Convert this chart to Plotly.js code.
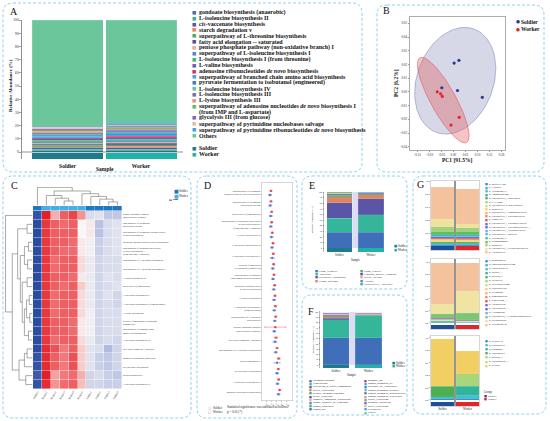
<!DOCTYPE html>
<html><head><meta charset="utf-8">
<script src="https://cdn.plot.ly/plotly-3.0.1.min.js"></script>
<style>html,body{margin:0;padding:0;background:#fff}#p{width:550px;height:421px}</style>
</head><body><div id="p"></div>
<script>
// ================= DATA =================
const groups = ['Soldier', 'Worker'];

// ---- Panel A: pathway relative abundance (%) ----
const pathwaysA = [
 'gondoate biosynthesis (anaerobic)', 'L-isoleucine biosynthesis II', '<i>cis</i>-vaccenate biosynthesis',
 'starch degradation v', 'superpathway of L-threonine biosynthesis', 'fatty acid elongation -- saturated',
 'pentose phosphate pathway (non-oxidative branch) I', 'superpathway of L-isoleucine biosynthesis I',
 'L-isoleucine biosynthesis I (from threonine)', 'L-valine biosynthesis',
 'adenosine ribonucleotides <i>de novo</i> biosynthesis', 'superpathway of branched chain amino acid biosynthesis',
 'pyruvate fermentation to isobutanol (engineered)', 'L-isoleucine biosynthesis IV', 'L-isoleucine biosynthesis III',
 'L-lysine biosynthesis III', 'superpathway of adenosine nucleotides <i>de novo</i> biosynthesis I<br>(from IMP and L-aspartate)',
 'glycolysis III (from glucose)', 'superpathway of pyrimidine nucleobases salvage',
 'superpathway of pyrimidine ribonucleotides <i>de novo</i> biosynthesis', 'Others'];
const soldierA = [1.02,0.98,1.05,0.93,0.99,1.01,0.96,0.97,1.00,0.98,0.95,0.99,0.97,1.00,0.98,0.96,1.01,0.97,0.94,0.96,80.4];
const workerA  = [1.12,1.08,1.15,1.05,1.10,1.12,1.02,1.09,1.11,1.10,1.08,1.10,1.09,1.12,1.10,1.08,1.12,1.09,1.06,1.08,78.0];

// ---- Panel B: PCA ----
const pc1Soldier = [0.003, 0.023, -0.048, 0.017, 0.120];
const pc2Soldier = [0.021, 0.023, 0.003, 0.001, -0.004];
const pc1Worker  = [-0.067, -0.053, -0.046, 0.024, -0.010];
const pc2Worker  = [0.000, -0.0014, -0.0033, -0.0186, -0.0242];
// confidence ellipses: centre + two conjugate semi-diameters (data units)
const ellSoldier = {cx:0.0076, cy:0.0081, ux:0.078, uy:0.0377, vx:0.149, vy:-0.0096};
const ellWorker  = {cx:-0.042, cy:-0.006, ux:0.0967, uy:-0.0309, vx:0.046, vy:0.0044};

// ---- Panel C: heatmap (z-scores) ----
const samplesC = ['Soldier5','Worker1','Worker2','Worker3','Worker4','Worker5','Soldier1','Soldier2','Soldier3','Soldier4'];
const groupC = [0,1,1,1,1,1,0,0,0,0];
const rowsC = ['pentose phosphate pathway<br>(non-oxidative branch) I','superpathway of pyrimidine<br>nucleobases salvage',
 'superpathway of pyrimidine ribonucleotides<br>de novo biosynthesis','adenosine ribonucleotides de novo biosynthesis',
 'superpathway of adenosine nucleotides<br>de novo biosynthesis I<br>(from IMP and L-aspartate)','superpathway of L-threonine biosynthesis',
 'superpathway of L-isoleucine biosynthesis I','L-lysine biosynthesis III','glycolysis III (from glucose)',
 'L-isoleucine biosynthesis II','L-isoleucine biosynthesis I (from threonine)','L-valine biosynthesis',
 'pyruvate fermentation to isobutanol<br>(engineered)','superpathway of branched chain<br>amino acid biosynthesis',
 'L-isoleucine biosynthesis III','fatty acid elongation -- saturated','gondoate biosynthesis (anaerobic)',
 'cis-vaccenate biosynthesis','starch degradation V','L-isoleucine biosynthesis IV'];
const zC = [
 [-2.4,1.6,0.5,1.1,1.3,0.7,-0.4,-0.3,-0.7,-0.7],
 [-2.5,1.4,1.1,1.0,1.1,0.0,0.1,-0.8,-0.4,-0.3],
 [-2.5,1.4,1.1,1.1,1.1,0.0,0.1,-0.8,-0.4,-0.3],
 [-2.5,1.4,1.1,1.1,1.0,0.1,-0.1,-0.6,-0.4,-0.3],
 [-2.5,1.4,1.1,1.0,1.0,0.1,-0.1,-0.6,-0.4,-0.3],
 [-2.5,1.4,1.0,1.1,1.1,0.2,-0.2,-0.5,-0.4,-0.4],
 [-2.5,1.4,1.0,1.1,1.1,0.2,-0.2,-0.5,-0.4,-0.4],
 [-2.5,1.4,1.1,1.1,1.0,0.1,-0.2,-0.5,-0.3,-0.4],
 [-2.5,1.4,1.1,1.0,1.1,0.3,-0.2,-0.5,-0.4,-0.3],
 [-2.5,1.4,1.0,1.1,1.1,0.2,-0.2,-0.5,-0.3,-0.5],
 [-2.5,1.4,1.0,1.1,1.1,0.2,-0.2,-0.5,-0.4,-0.5],
 [-2.5,1.4,1.0,1.1,1.1,0.2,-0.1,-0.5,-0.4,-0.4],
 [-2.5,1.4,1.1,1.1,1.0,0.1,-0.1,-0.5,-0.4,-0.4],
 [-2.5,1.4,1.1,1.1,1.0,0.1,-0.1,-0.5,-0.4,-0.4],
 [-2.5,1.4,1.0,1.1,1.1,0.2,-0.2,-0.5,-0.4,-0.5],
 [-2.5,1.5,1.2,0.9,1.1,0.3,-0.3,-0.4,-0.9,-0.5],
 [-2.4,1.5,1.1,0.9,1.2,0.3,-0.3,-0.6,-0.7,-0.5],
 [-2.4,1.5,1.1,0.9,1.2,0.3,-0.3,-0.6,-0.7,-0.5],
 [-2.3,1.6,0.6,0.9,1.0,0.5,-0.5,-0.4,-0.6,-0.7],
 [-2.4,1.5,0.7,1.0,1.1,0.4,-0.5,-0.5,-0.6,-0.6]];
// dendrogram linkages [childA, childB, height]
const colLinks = [[3,4,0.25],[2,10,0.4],[1,11,0.55],[8,9,0.2],[7,13,0.35],[6,14,0.5],[5,15,0.65],[12,16,0.8],[0,17,1.0]];
const rowLinks = [[1,2,0.2],[3,4,0.15],[5,6,0.18],[21,22,0.3],[7,8,0.2],[9,10,0.12],[11,12,0.1],[25,26,0.22],[13,14,0.15],
 [27,28,0.3],[24,29,0.38],[23,30,0.45],[20,31,0.55],[15,16,0.2],[17,33,0.3],[18,19,0.25],[34,35,0.5],[32,36,0.75],[0,37,1.0]];

// ---- Panel D: mean abundance with error ----
const rowsD = ['superpathway of pyrimidine<br>ribonucleotides de novo biosynthesis','superpathway of pyrimidine<br>nucleobases salvage',
 'glycolysis III (from glucose)','superpathway of adenosine nucleotides<br>de novo biosynthesis I<br>(from IMP and L-aspartate)',
 'L-lysine biosynthesis III','L-isoleucine biosynthesis III','L-isoleucine biosynthesis IV',
 'pyruvate fermentation<br>to isobutanol (engineered)','superpathway of branched<br>chain amino acid biosynthesis',
 'adenosine ribonucleotides<br>de novo biosynthesis','L-valine biosynthesis','L-isoleucine biosynthesis I<br>(from threonine)',
 'superpathway of L-isoleucine<br>biosynthesis I','pentose phosphate pathway<br>(non-oxidative branch) I',
 'fatty acid elongation -- saturated','superpathway of L-threonine biosynthesis','starch degradation V',
 'cis-vaccenate biosynthesis','L-isoleucine biosynthesis II','gondoate biosynthesis (anaerobic)'];
const workerD  = [0.010,0.010,0.0114,0.0114,0.0126,0.014,0.0146,0.0154,0.016,0.0174,0.018,0.0186,0.0194,0.0186,0.020,0.022,0.0254,0.0246,0.0254,0.0274];
const soldierD = [0.008,0.0085,0.0095,0.0095,0.011,0.012,0.0125,0.0135,0.014,0.0155,0.016,0.0165,0.0175,0.0165,0.018,0.0195,0.022,0.022,0.023,0.025];
const workerErr  = [0.002,0.002,0.002,0.002,0.002,0.002,0.002,0.002,0.002,0.002,0.002,0.002,0.002,0.021,0.003,0.002,0.003,0.002,0.002,0.002];
const soldierErr = [0.003,0.003,0.003,0.003,0.003,0.003,0.004,0.003,0.003,0.003,0.003,0.003,0.003,0.003,0.004,0.003,0.006,0.003,0.003,0.003];

// ---- Panel E: BugBase phenotypes (%) ----
const phenoE = ['Gram_Negative','Anaerobic','Potentially_Pathogenic','Forms_Biofilms','Gram_Positive','Contains_Mobile_Elements','Stress_Tolerant','Aerobic','Facultatively_Anaerobic'];
const soldierE = [28.6,25.0,26.8,10.7,3.0,2.0,1.5,1.3,1.1];
const workerE  = [28.6,30.4,28.6,7.1,2.0,1.3,0.8,0.7,0.5];

// ---- Panel F: FAPROTAX functions (%) ----
const funcF = ['chemoheterotrophy','fermentation','respiration_of_sulfur_compounds','sulfate_respiration','aerobic_chemoheterotrophy',
 'nitrate_reduction','aromatic_compound_degradation','animal_parasites_or_symbionts','human_associated','human_gut',
 'mammal_gut','human_pathogens_all','predatory_or_exoparasitic','human_pathogens_diarrhea','human_pathogens_gastroenteritis',
 'human_pathogens_septicemia','nitrate_respiration','nitrogen_respiration','nitrite_respiration','cellulolysis','Others'];
const soldierF = [51.0,34.0,3.2,2.4,2.0,1.5,1.2,0.9,0.8,0.6,0.5,0.4,0.3,0.3,0.2,0.2,0.1,0.1,0.1,0.1,0.1];
const workerF  = [51.0,43.0,1.2,0.9,0.8,0.6,0.5,0.4,0.3,0.3,0.2,0.2,0.1,0.1,0.1,0.1,0.05,0.05,0.05,0.05,0.05];

// ---- Panel G: genus composition (proportion) ----
const genusG1 = ['g_Bacella-P104','g_Alistipes','g_Treponema_D','g_Endomicrobium_A','g_Unclassified_c_Bacteroidia','g_CAG-0001',
 'g_Unclassified_o_Bacteroidales','g_Bergeyella','g_Unclassified_f_Ruminococcaceae','g_Unclassified_f_Oscillospiraceae','g_Tannerella',
 'g_Unclassified_f_Coriobacteriaceae','g_Unclassified_f_Enterobacteriaceae_A','g_Unclassified_f_Lactobacillaceae','g_Unclassified_f_Bacteria',
 'g_Treponema_H','g_Dysgonomonas','g_Mikkieria','g_Unclassified_f_Erysipelotrichaceae','g_Acidocutella'];
const soldierG1 = [0.012,0.010,0.015,0.008,0.012,0.010,0.008,0.015,0.012,0.010,0.008,0.010,0.010,0.010,0.010,0.020,0.040,0.077,0.118,0.488];
const workerG1  = [0.010,0.012,0.012,0.010,0.010,0.012,0.010,0.012,0.010,0.010,0.010,0.010,0.012,0.010,0.010,0.020,0.040,0.060,0.064,0.536];
const genusG2 = ['g_Megasphaera','g_Phascolarctobacterium','g_Christensenella','g_Blautia_A','g_Bacillus_P','g_Prevotella',
 'g_Faecalibacterium','g_Cloacibacillus','g_Sellimonas','g_Ruminococcus','g_Clostridium_A','g_Lactobacillus',
 'g_Enterococcus_A','g_Leuconostoc','g_Unclassified_f_Peptostreptococcaceae','g_Streptococcus','g_Treponema_M'];
const soldierG2 = [0.007,0.006,0.006,0.006,0.005,0.006,0.006,0.005,0.006,0.005,0.006,0.005,0.006,0.005,0.073,0.164,0.673];
const workerG2  = [0.004,0.004,0.004,0.003,0.004,0.004,0.003,0.004,0.004,0.003,0.004,0.003,0.003,0.003,0.110,0.360,0.470];
const genusG3 = ['g_Serratia_B','g_Pluralibacter','g_Kosakonia','g_Enterobacter','g_Bacillus_P','g_Enterococcus_A','g_Serratia'];
const soldierG3 = [0.020,0.030,0.000,0.170,0.000,0.000,0.770];
const workerG3  = [0.020,0.060,0.140,0.000,0.200,0.000,0.365];

// ================= STYLE / HELPERS =================
const W = 550, H = 421;
const SERIF = 'Liberation Serif, Times New Roman, serif';
const PAL = ['#3f6fb8','#35b69b','#5b55a8','#e08465','#48ad5a','#5a4aa6','#e9ad8f','#3e8fd6','#3cb57b','#5f63c0','#c8396a','#4aa3e3','#3b7ed0','#53c6b0','#7a6cbf','#e3977e','#5bba72','#8262c4','#ebbb9b','#3fa2e2','#6cc69c'];
const PALG = ['#3d7fd6','#4aa6dc','#3ec1c9','#2fae8f','#4caf50','#a1d57a','#d3df7c','#f3d56b','#f6b36e','#f08c6f','#e4534f','#8a5cc4','#4e6fd1','#5fb0e8','#47c3d1','#44b79a','#5fbf5b','#9fd27c','#eee29c','#f4c29c'];
const PALG2 = ['#3d7fd6','#4aa6dc','#3ec1c9','#2fae8f','#4caf50','#a1d57a','#d3df7c','#f3d56b','#f6b36e','#f08c6f','#e4534f','#8a5cc4','#4e6fd1','#5fb0e8','#7cc576','#f0e4a2','#f4c29c'];
const PALG3 = ['#3d7fd6','#3ec1c9','#2fb59a','#4caf50','#a9d67a','#c9de7a','#f2cf63'];
const dom = (a,b) => [a/W, b/W];
const domy = (top,bot) => [1-bot/H, 1-top/H];
const X = v => v/W, Y = v => 1-v/H;
const traces = [], shapes = [], annotations = [];
function ann(xp, yp, text, o={}) {
  annotations.push(Object.assign({xref:'paper', yref:'paper', x:X(xp), y:Y(yp), text, showarrow:false,
    xanchor:'left', yanchor:'middle', font:{family:SERIF, size:4, color:'#222'}}, o));
}
function rr(x0,y0,x1,y1,r){
  const a=v=>X(v).toFixed(5), b=v=>Y(v).toFixed(5);
  return `M${a(x0+r)},${b(y0)} L${a(x1-r)},${b(y0)} Q${a(x1)},${b(y0)} ${a(x1)},${b(y0+r)} L${a(x1)},${b(y1-r)} Q${a(x1)},${b(y1)} ${a(x1-r)},${b(y1)} L${a(x0+r)},${b(y1)} Q${a(x0)},${b(y1)} ${a(x0)},${b(y1-r)} L${a(x0)},${b(y0+r)} Q${a(x0)},${b(y0)} ${a(x0+r)},${b(y0)} Z`;
}
function box(x0,y0,x1,y1){ shapes.push({type:'path', xref:'paper', yref:'paper', path:rr(x0,y0,x1,y1,10), line:{color:'#8fd0ee', width:1, dash:'3px,2px'}, layer:'below'}); }
function stacked(names, sv, wv, pal, xa, ya, width, lineCol) {
  names.forEach((n,i)=>traces.push({type:'bar', x:groups, y:[sv[i], wv[i]], width:width, name:n, xaxis:xa, yaxis:ya,
    marker:{color:pal[i % pal.length], line:{color:lineCol||'rgba(255,255,255,0.6)', width:0.2}}, hoverinfo:'skip'}));
}
function strip(xa, ya, base, h, cols, width){
  traces.push({type:'bar', x:groups, y:[h,h], base:[base,base], width:width, xaxis:xa, yaxis:ya, marker:{color:cols, line:{width:0}}, hoverinfo:'skip'});
}
const gcolA = ['#1d7c8c','#1fb2a7'];
const gcolG = ['#1f4e9a','#e0262b'];
const axHidden = {showgrid:false, zeroline:false, showticklabels:false, ticks:'', showline:false};

// ================= PANEL BOXES =================
box(3,3,362,172); box(377,5,544,172);
box(3,176,191,418); box(197,176,297,418);
box(302,176,407,289); box(302,295,407,415);
box(413,176,546,414);

// ================= PANEL A =================
stacked(pathwaysA, soldierA, workerA, PAL, 'x', 'y', 0.966);
strip('x','y',-5.3,4.9,gcolA,0.966);
shapes.push({type:'line', xref:'x domain', yref:'y', x0:0, x1:1, y0:0, y1:0, line:{color:'#444', width:0.6}});
let ln = 0;
pathwaysA.forEach((n,i)=>{
  const parts = n.split('<br>');
  parts.forEach((p,k)=>{
    const yy = 12.3 + ln*5.87;
    ann(197, yy, p, {font:{family:SERIF, size:6, color:'#111', weight:'bold'}});
    if (k===0) ann(189.5, yy, '■', {font:{family:'DejaVu Sans', size:4.6, color:PAL[i]}});
    ln++;
  });
});
groups.forEach((g,i)=>{
  ann(197, 148.5+i*5.9, g, {font:{family:SERIF, size:6, color:'#111', weight:'bold'}});
  ann(189.5, 148.5+i*5.9, '■', {font:{family:'DejaVu Sans', size:4.6, color:gcolA[i]}});
});
ann(10,86,'Relative Abundance (%)',{textangle:-90, xanchor:'center', font:{family:SERIF,size:5,weight:'bold',color:'#111'}});
ann(105,169,'Sample',{xanchor:'center', font:{family:SERIF,size:5.5,weight:'bold',color:'#111'}});

// ================= PANEL B =================
function ellipse(e){ const xs=[], ys=[]; for(let k=0;k<=120;k++){const t=2*Math.PI*k/120; xs.push(e.cx+e.ux*Math.cos(t)+e.vx*Math.sin(t)); ys.push(e.cy+e.uy*Math.cos(t)+e.vy*Math.sin(t));} return {xs,ys}; }
const eS = ellipse(ellSoldier), eW = ellipse(ellWorker);
traces.push({type:'scatter', mode:'lines', x:eS.xs, y:eS.ys, xaxis:'x2', yaxis:'y2', fill:'toself', fillcolor:'rgba(90,100,165,0.25)', line:{color:'rgba(110,120,180,0.7)', width:0.7}, hoverinfo:'skip'});
traces.push({type:'scatter', mode:'lines', x:eW.xs, y:eW.ys, xaxis:'x2', yaxis:'y2', fill:'toself', fillcolor:'rgba(225,70,70,0.32)', line:{color:'rgba(230,80,80,0.8)', width:0.7}, hoverinfo:'skip'});
traces.push({type:'scatter', mode:'markers', x:pc1Soldier, y:pc2Soldier, xaxis:'x2', yaxis:'y2', marker:{color:'#2b3990', size:3.2}, hoverinfo:'skip'});
traces.push({type:'scatter', mode:'markers', x:pc1Worker, y:pc2Worker, xaxis:'x2', yaxis:'y2', marker:{color:'#e8262a', size:3.2}, hoverinfo:'skip'});
ann(514,22,'●',{font:{family:'DejaVu Sans',size:4.5,color:'#2b3990'}}); ann(519,22,'Soldier',{font:{family:SERIF,size:5.5,weight:'bold',color:'#111'}});
ann(514,29,'●',{font:{family:'DejaVu Sans',size:4.5,color:'#e8262a'}}); ann(519,29,'Worker',{font:{family:SERIF,size:5.5,weight:'bold',color:'#111'}});
ann(457,160,'PC1 [91.5%]',{xanchor:'center', font:{family:SERIF,size:5.5,weight:'bold',color:'#111'}});
ann(396,83,'PC2 [6.2%]',{xanchor:'center', textangle:-90, font:{family:SERIF,size:5.5,weight:'bold',color:'#111'}});

// ================= PANEL C =================
traces.push({type:'heatmap', z:zC, x:samplesC.map((_,i)=>i), y:rowsC.map((_,i)=>i), xaxis:'x3', yaxis:'y3', zmin:-2.6, zmax:1.6,
  xgap:0.4, ygap:0.4, hoverinfo:'skip',
  colorscale:[[0,'#2445a0'],[0.3,'#8f9fd6'],[0.62,'#f8f6f6'],[0.8,'#f38a8c'],[1,'#e41f26']],
  colorbar:{x:X(159), xanchor:'left', y:Y(199), yanchor:'middle', len:20, lenmode:'pixels', thickness:3, thicknessmode:'pixels',
    tickvals:[1.59,0,-2.56], ticktext:['1.59','0.00','-2.56'], tickfont:{size:2.5, family:SERIF}, outlinewidth:0, ticks:''}});
traces.push({type:'heatmap', z:[groupC], x:samplesC.map((_,i)=>i), y:[0], xaxis:'x4', yaxis:'y4', zmin:0, zmax:1, showscale:false, xgap:0.3,
  colorscale:[[0,'#1f77c0'],[0.5,'#1f77c0'],[0.5,'#45aee2'],[1,'#45aee2']], hoverinfo:'skip'});
function dendro(n, links){ const pos=[], ht=[]; for(let i=0;i<n;i++){pos[i]=i; ht[i]=0;}
  const A=[], Hh=[]; links.forEach((m,k)=>{const [a,b,h]=m; A.push(pos[a],pos[a],pos[b],pos[b],null); Hh.push(ht[a],h,h,ht[b],null); pos[n+k]=(pos[a]+pos[b])/2; ht[n+k]=h;}); return {A,Hh}; }
const dC = dendro(10, colLinks), dR = dendro(20, rowLinks);
traces.push({type:'scatter', mode:'lines', x:dC.A, y:dC.Hh, xaxis:'x5', yaxis:'y5', line:{color:'#555', width:0.5}, hoverinfo:'skip', connectgaps:false});
traces.push({type:'scatter', mode:'lines', x:dR.Hh, y:dR.A, xaxis:'x6', yaxis:'y6', line:{color:'#555', width:0.5}, hoverinfo:'skip', connectgaps:false});
ann(172,191,'■',{font:{family:'DejaVu Sans',size:5,color:'#1f77c0'}}); ann(177,191,'Soldier',{font:{family:SERIF,size:3,color:'#222'}});
ann(172,196,'■',{font:{family:'DejaVu Sans',size:5,color:'#45aee2'}}); ann(177,196,'Worker',{font:{family:SERIF,size:3,color:'#222'}});

// ================= PANEL D =================
const idxD = rowsD.map((_,i)=>i);
traces.push({type:'scatter', mode:'markers', x:workerD, y:idxD.map(i=>i-0.2), xaxis:'x7', yaxis:'y7',
  error_x:{type:'data', array:workerErr, thickness:0.4, width:1, color:'#e8464a'}, marker:{color:'#e8464a', size:2.4}, hoverinfo:'skip'});
traces.push({type:'scatter', mode:'markers', x:soldierD, y:idxD.map(i=>i+0.2), xaxis:'x7', yaxis:'y7',
  error_x:{type:'data', array:soldierErr, thickness:0.4, width:1, color:'#5a78c8'}, marker:{color:'#5a78c8', size:2.4}, hoverinfo:'skip'});
ann(206,407.5,'○',{font:{family:'DejaVu Sans',size:4,color:'#5a78c8'}}); ann(211,407.5,'Soldier',{font:{family:SERIF,size:3.2}});
ann(206,411.5,'○',{font:{family:'DejaVu Sans',size:4,color:'#e8464a'}}); ann(211,411.5,'Worker',{font:{family:SERIF,size:3.2}});
ann(225,407.3,'Statistical significance was indicated as follows:',{font:{family:SERIF,size:3.2}});
ann(225,411.8,'p < 0.05 (*)',{font:{family:SERIF,size:3.2}});

// ================= PANEL E =================
shapes.push({type:'rect', xref:'x8', yref:'y8', x0:0.405, x1:0.595, y0:0, y1:100, fillcolor:'rgba(195,198,238,0.6)', line:{width:0}, layer:'below'});
stacked(phenoE, soldierE, workerE, PAL, 'x8', 'y8', 0.81);
strip('x8','y8',-7.1,6.6,gcolA,0.81);
phenoE.forEach((n,i)=>{ const col = i<4 ? 0 : 1, r = i<4 ? i : i-4; const xx = col ? 358 : 313, yy = 270.5 + r*3.4;
  ann(xx, yy, '■', {font:{family:'DejaVu Sans', size:3.2, color:PAL[i]}}); ann(xx+3.5, yy, n, {font:{family:SERIF,size:2.9}}); });
groups.forEach((g,i)=>{ ann(392,246.5+i*3.6,'■',{font:{family:'DejaVu Sans',size:3.4,color:gcolA[i]}}); ann(396,246.5+i*3.6,g,{font:{family:SERIF,size:3}}); });
ann(313,220,'Relative Abundance (%)',{textangle:-90, xanchor:'center', font:{family:SERIF,size:2.7}});
ann(355.5,260,'Sample',{xanchor:'center', font:{family:SERIF,size:3}});

// ================= PANEL F =================
shapes.push({type:'rect', xref:'x9', yref:'y9', x0:0.405, x1:0.595, y0:0, y1:100, fillcolor:'rgba(195,198,238,0.6)', line:{width:0}, layer:'below'});
stacked(funcF, soldierF, workerF, PAL, 'x9', 'y9', 0.815);
strip('x9','y9',-5.7,5.3,gcolA,0.815);
funcF.forEach((n,i)=>{ const col = i<10 ? 0 : 1, r = i<10 ? i : i-10; const xx = col ? 362 : 307, yy = 380.5 + r*3.2;
  ann(xx, yy, '■', {font:{family:'DejaVu Sans', size:3, color:PAL[i]}}); ann(xx+3.5, yy, n, {font:{family:SERIF,size:2.8}}); });
groups.forEach((g,i)=>{ ann(390,362.5+i*3.6,'■',{font:{family:'DejaVu Sans',size:3.4,color:gcolA[i]}}); ann(394,362.5+i*3.6,g,{font:{family:SERIF,size:3}}); });
ann(313,340,'Relative Abundance (%)',{textangle:-90, xanchor:'center', font:{family:SERIF,size:2.7}});
ann(352,375,'Sample',{xanchor:'center', font:{family:SERIF,size:3}});

// ================= PANEL G =================
const gSets = [[genusG1,soldierG1,workerG1,PALG,'x10','y10',-0.0615,0.056,184,3.6],
               [genusG2,soldierG2,workerG2,PALG2,'x11','y11',-0.099,0.066,260.5,4.0],
               [genusG3,soldierG3,workerG3,PALG3,'x12','y12',-0.097,0.065,341,4.1]];
gSets.forEach(([names,sv,wv,pal,xa,ya,b,h,ly,sp])=>{
  stacked(names, sv, wv, pal, xa, ya, 0.92, 'rgba(255,255,255,0.3)');
  strip(xa, ya, b, h, gcolG, 0.92);
  shapes.push({type:'line', xref:xa, yref:ya+' domain', x0:0.5, x1:0.5, y0:0, y1:1, line:{color:'#7a7a7a', width:1.6}});
  names.forEach((n,i)=>{ ann(483, ly+i*sp, '■', {font:{family:'DejaVu Sans', size:3, color:pal[i]}}); ann(487, ly+i*sp, n, {font:{family:SERIF,size:2.6}}); });
});
ann(482,392,'Group',{font:{family:SERIF,size:3}});
groups.forEach((g,i)=>{ ann(482,396+i*3.4,'■',{font:{family:'DejaVu Sans',size:3.2,color:gcolG[i]}}); ann(486,396+i*3.4,g,{font:{family:SERIF,size:2.8}}); });

// ================= PANEL LETTERS =================
[['A',8,12],['B',381,11],['C',9,186],['D',202,185],['E',307,185],['F',306,311],['G',415,184]].forEach(([t,x,y])=>
  ann(x,y,t,{font:{family:SERIF,size:10,color:'#111'}}));

// ================= LAYOUT =================
const tf = (s)=>({family:SERIF, size:s, color:'#222'});
const layout = {
  width:W, height:H, margin:{l:0,r:0,t:0,b:0}, paper_bgcolor:'#fff', plot_bgcolor:'rgba(0,0,0,0)',
  barmode:'stack', showlegend:false, font:{family:SERIF, size:4, color:'#222'},
  // A
  xaxis:{domain:dom(22,183), anchor:'y', range:[-0.619,1.571], type:'category', showgrid:false, zeroline:false, ticks:'', showline:false,
    tickfont:{family:SERIF,size:5.5,weight:'bold',color:'#111'}, ticklabelstandoff:2},
  yaxis:{domain:domy(19.5,159), anchor:'x', range:[-5.3,100.5], tickvals:[0,10,20,30,40,50,60,70,80,90,100], showgrid:false, zeroline:false,
    ticks:'outside', ticklen:2, tickwidth:0.5, showline:true, linewidth:0.6, linecolor:'#444', tickfont:tf(3.6)},
  // B
  xaxis2:{domain:dom(410,505), anchor:'y2', range:[-0.18,0.214], tickvals:[-0.15,-0.1,-0.05,0,0.05,0.1,0.15,0.2], tickformat:'.2f',
    showgrid:false, zeroline:false, showline:true, mirror:true, linecolor:'#999', linewidth:0.8, ticks:'outside', ticklen:1.5, tickcolor:'#999', tickfont:tf(3.2)},
  yaxis2:{domain:domy(17,150), anchor:'x2', range:[-0.0424,0.0546], tickvals:[-0.04,-0.03,-0.02,-0.01,0,0.01,0.02,0.03,0.04,0.05], tickformat:'.2f',
    showgrid:false, zeroline:false, showline:true, mirror:true, linecolor:'#999', linewidth:0.8, ticks:'outside', ticklen:1.5, tickcolor:'#999', tickfont:tf(3.2)},
  // C heatmap
  xaxis3:{domain:dom(33,122), anchor:'y3', range:[-0.5,9.5], tickvals:samplesC.map((_,i)=>i), ticktext:samplesC, tickangle:-60,
    showgrid:false, zeroline:false, ticks:'', tickfont:tf(2.6)},
  yaxis3:{domain:domy(211,389), anchor:'x3', range:[19.5,-0.5], side:'right', tickvals:rowsC.map((_,i)=>i), ticktext:rowsC,
    showgrid:false, zeroline:false, ticks:'', tickfont:tf(2.4)},
  xaxis4:Object.assign({domain:dom(33,122), anchor:'y4', range:[-0.5,9.5]}, axHidden),
  yaxis4:Object.assign({domain:domy(206,210.6), anchor:'x4', range:[-0.5,0.5]}, axHidden),
  xaxis5:Object.assign({domain:dom(33,122), anchor:'y5', range:[-0.5,9.5]}, axHidden),
  yaxis5:Object.assign({domain:domy(187,205.5), anchor:'x5', range:[0,1.02]}, axHidden),
  xaxis6:Object.assign({domain:dom(5,32.5), anchor:'y6', range:[1.02,0]}, axHidden),
  yaxis6:Object.assign({domain:domy(211,389), anchor:'x6', range:[19.5,-0.5]}, axHidden),
  // D
  xaxis7:{domain:dom(262,292), anchor:'y7', range:[-0.008,0.052], tickvals:[0,0.01,0.02,0.03,0.04], tickformat:'.2f',
    showgrid:false, zeroline:false, showline:true, mirror:true, linecolor:'#bbb', linewidth:0.6, ticks:'outside', ticklen:1, tickcolor:'#bbb', tickfont:tf(2.2)},
  yaxis7:{domain:domy(183,400.5), anchor:'x7', range:[19.8,-0.95], tickvals:idxD, ticktext:rowsD, showgrid:false, zeroline:false,
    showline:true, mirror:true, linecolor:'#bbb', linewidth:0.6, ticks:'', tickfont:tf(2.5)},
  // E
  xaxis8:{domain:dom(324,387), anchor:'y8', range:[-0.49,1.51], type:'category', showgrid:false, zeroline:false, ticks:'', tickfont:tf(3)},
  yaxis8:{domain:domy(191.5,252), anchor:'x8', range:[-7.1,100.9], tickvals:[0,10,20,30,40,50,60,70,80,90,100], showgrid:false, zeroline:false,
    ticks:'outside', ticklen:1, tickwidth:0.4, showline:true, linewidth:0.4, linecolor:'#555', tickfont:tf(2.3)},
  // F
  xaxis9:{domain:dom(320,385), anchor:'y9', range:[-0.49,1.51], type:'category', showgrid:false, zeroline:false, ticks:'', tickfont:tf(3)},
  yaxis9:{domain:domy(311.5,368), anchor:'x9', range:[-5.7,100.9], tickvals:[0,10,20,30,40,50,60,70,80,90,100], showgrid:false, zeroline:false,
    ticks:'outside', ticklen:1, tickwidth:0.4, showline:true, linewidth:0.4, linecolor:'#555', tickfont:tf(2.3)},
};
[['10',181,250,[-0.0615,1.0]],['11',259,329,[-0.099,1.054]],['12',336,406,[-0.097,1.032]]].forEach(([k,t,b,r])=>{
  layout['xaxis'+k] = {domain:dom(430.5,479.5), anchor:'y'+k, range:[-0.48,1.48], type:'category', showgrid:false, zeroline:false, ticks:'',
    showline:true, mirror:true, linecolor:'#bbb', linewidth:0.6, tickfont:tf(3)};
  layout['yaxis'+k] = {domain:domy(t,b), anchor:'x'+k, range:r, tickvals:[0,0.2,0.4,0.6,0.8,1.0], tickformat:'.1f', showgrid:false, zeroline:false,
    showline:true, mirror:true, linecolor:'#bbb', linewidth:0.6, ticks:'outside', ticklen:1, tickcolor:'#bbb', tickfont:tf(2.6)};
});
layout.xaxis10.showticklabels = false; layout.xaxis11.showticklabels = false;
layout.shapes = shapes; layout.annotations = annotations;
Plotly.newPlot('p', traces, layout, {staticPlot:true, displayModeBar:false});
</script></body></html>
